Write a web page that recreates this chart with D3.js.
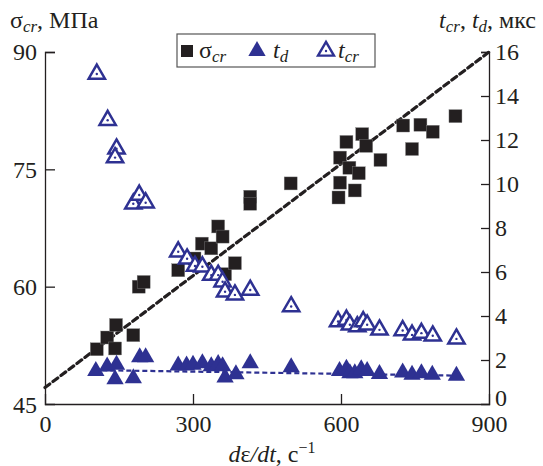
<!DOCTYPE html>
<html>
<head>
<meta charset="utf-8">
<script src="https://cdn.jsdelivr.net/npm/d3@7"></script>
<style>
  body { margin: 0; background: #fff; }
  svg text { font-family: "Liberation Serif", "Times New Roman", serif; fill: #231f20; }
</style>
</head>
<body>
<div id="chart"></div>
<script>
// strain rate, 1/s
const sigmaRate = [105, 126, 142, 144, 179, 190, 200, 270, 303, 318, 337, 351, 360, 365, 385, 416, 416, 498, 595, 598, 598, 611, 617, 628, 636, 643, 651, 680, 726, 744, 761, 786, 832];
// critical stress, MPa
const sigmaCr = [52.0, 53.5, 52.1, 55.1, 53.8, 60.0, 60.6, 62.1, 63.6, 65.5, 64.9, 67.7, 66.4, 61.6, 63.0, 71.5, 70.6, 73.2, 71.4, 73.3, 76.5, 78.5, 75.2, 72.3, 74.5, 79.5, 78.0, 76.2, 80.6, 77.6, 80.7, 79.8, 81.8];

const tdRate = [103, 126, 145, 142, 179, 192, 204, 270, 287, 300, 319, 337, 351, 360, 365, 387, 416, 499, 597, 611, 618, 628, 641, 653, 678, 725, 744, 763, 785, 834];
const tdVal = [1.5, 1.7, 1.78, 1.13, 1.17, 2.12, 2.12, 1.75, 1.75, 1.78, 1.85, 1.72, 1.82, 1.72, 1.2, 1.35, 1.85, 1.67, 1.5, 1.6, 1.4, 1.4, 1.58, 1.5, 1.36, 1.43, 1.33, 1.4, 1.33, 1.28];

const tcrRate = [105, 127, 145, 142, 179, 191, 204, 270, 288, 304, 319, 337, 351, 360, 365, 385, 416, 499, 594, 611, 618, 633, 645, 653, 678, 725, 744, 763, 786, 834];
const tcrVal = [15.0, 12.9, 11.6, 11.2, 9.1, 9.5, 9.15, 6.92, 6.6, 6.27, 6.24, 5.86, 5.86, 5.56, 5.1, 4.96, 5.18, 4.43, 3.75, 3.82, 3.6, 3.52, 3.75, 3.6, 3.37, 3.34, 3.14, 3.22, 3.1, 2.96];

// fitted lines (end points)
const sigmaFitX = [0, 900];
const sigmaFitY = [47.1, 90];
const tdFitX = [100, 834];
const tdFitY = [1.54, 1.29];

const xTicks = [0, 300, 600, 900];
const leftTicks = [45, 60, 75, 90];
const rightTicks = [0, 2, 4, 6, 8, 10, 12, 14, 16];

const blue = "#2e3192";
const black = "#231f20";
const serif = "'Liberation Serif', 'Times New Roman', serif";
const fs = "24px", fsSub = "17px";

const W = 543, H = 466;
const margin = {top: 52, right: 54, bottom: 62, left: 45};
const width = W - margin.left - margin.right;
const height = H - margin.top - margin.bottom;

const svg = d3.select("#chart").append("svg")
    .attr("width", W)
    .attr("height", H)
    .style("font-family", serif);

const g = svg.append("g")
    .attr("transform", "translate(" + margin.left + "," + margin.top + ")");

const x = d3.scaleLinear().domain([0, 900]).range([0, width]);
const yL = d3.scaleLinear().domain([45, 90]).range([height, 0]);
const yR = d3.scaleLinear().domain([0, 16]).range([height, 0]);

// axes
const xAxis = d3.axisBottom(x).tickValues(xTicks).tickSize(-10).tickPadding(5).tickFormat(d3.format("d"));
const leftAxis = d3.axisLeft(yL).tickValues(leftTicks.slice(1)).tickSize(-10).tickPadding(8);
const rightAxis = d3.axisRight(yR).tickValues(rightTicks.slice(1)).tickSize(-8).tickPadding(6);

const gx = g.append("g").attr("transform", "translate(0," + height + ")").call(xAxis);
const gl = g.append("g").call(leftAxis);
const gr = g.append("g").attr("transform", "translate(" + width + ",0)").call(rightAxis);

[gx, gl, gr].forEach(a => {
    a.attr("font-family", serif);
    a.select(".domain").attr("stroke", black).attr("stroke-width", 1.3);
    a.selectAll(".tick line").attr("stroke", black).attr("stroke-width", 1.3);
    a.selectAll(".tick text").style("font-size", fs).style("font-family", serif).attr("fill", black);
});
gx.selectAll(".tick text").attr("dy", "0.95em");
gx.selectAll(".tick").filter(d => d === 0 || d === 900).select("line").remove();

// bottom labels not produced by axes
g.append("text").attr("x", -8).attr("y", height + 9).attr("text-anchor", "end")
    .style("font-size", fs).text(leftTicks[0]);
g.append("text").attr("x", width + 6).attr("y", height - 6).attr("dy", "0.32em")
    .style("font-size", fs).text(rightTicks[0]);

// fitted lines
g.append("line")
    .attr("x1", x(sigmaFitX[0])).attr("y1", yL(sigmaFitY[0]))
    .attr("x2", x(sigmaFitX[1])).attr("y2", yL(sigmaFitY[1]))
    .attr("stroke", black).attr("stroke-width", 3.2)
    .attr("stroke-dasharray", "6,4").attr("stroke-linecap", "round");

g.append("line")
    .attr("x1", x(tdFitX[0])).attr("y1", yR(tdFitY[0]))
    .attr("x2", x(tdFitX[1])).attr("y2", yR(tdFitY[1]))
    .attr("stroke", blue).attr("stroke-width", 2.2)
    .attr("stroke-dasharray", "5,3");

// markers
const tri = d3.symbol().type(d3.symbolTriangle);

g.selectAll(".sq").data(sigmaRate.map((r, i) => [r, sigmaCr[i]]))
    .enter().append("rect")
    .attr("class", "sq")
    .attr("x", d => x(d[0]) - 6.5).attr("y", d => yL(d[1]) - 6.5)
    .attr("width", 13).attr("height", 13)
    .attr("fill", black).attr("stroke", "#888").attr("stroke-width", 0.4);

g.selectAll(".td").data(tdRate.map((r, i) => [r, tdVal[i]]))
    .enter().append("path")
    .attr("class", "td")
    .attr("d", tri.size(130))
    .attr("transform", d => "translate(" + x(d[0]) + "," + yR(d[1]) + ")")
    .attr("fill", blue);

const tcrG = g.selectAll(".tcr").data(tcrRate.map((r, i) => [r, tcrVal[i]]))
    .enter().append("g")
    .attr("class", "tcr")
    .attr("transform", d => "translate(" + x(d[0]) + "," + yR(d[1]) + ")");
tcrG.append("path").attr("d", tri.size(115))
    .attr("fill", "#fff").attr("stroke", blue).attr("stroke-width", 2.5);
tcrG.append("circle").attr("r", 1.2).attr("fill", blue);

// legend
const lg = svg.append("g").attr("transform", "translate(177,34)");
lg.append("rect").attr("width", 198).attr("height", 33)
    .attr("fill", "#fff").attr("stroke", "#555").attr("stroke-width", 1.2);
lg.append("rect").attr("x", 4).attr("y", 11).attr("width", 12).attr("height", 12).attr("fill", black);
const l1 = lg.append("text").attr("x", 22).attr("y", 24).style("font-size", fs);
l1.append("tspan").text("σ");
l1.append("tspan").attr("dy", 4).style("font-size", fsSub).style("font-style", "italic").text("cr");
lg.append("path").attr("d", tri.size(130)).attr("transform", "translate(80,17)").attr("fill", blue);
const l2 = lg.append("text").attr("x", 96).attr("y", 24).style("font-size", fs);
l2.append("tspan").style("font-style", "italic").text("t");
l2.append("tspan").attr("dy", 4).style("font-size", fsSub).style("font-style", "italic").text("d");
lg.append("path").attr("d", tri.size(110)).attr("transform", "translate(149,17)")
    .attr("fill", "#fff").attr("stroke", blue).attr("stroke-width", 2.4);
lg.append("circle").attr("cx", 149).attr("cy", 17).attr("r", 1.2).attr("fill", blue);
const l3 = lg.append("text").attr("x", 161).attr("y", 24).style("font-size", fs);
l3.append("tspan").style("font-style", "italic").text("t");
l3.append("tspan").attr("dy", 4).style("font-size", fsSub).style("font-style", "italic").text("cr");

// axis titles
const tl = svg.append("text").attr("x", 10).attr("y", 28).style("font-size", fs);
tl.append("tspan").text("σ");
tl.append("tspan").attr("dy", 4).style("font-size", fsSub).style("font-style", "italic").text("cr");
tl.append("tspan").attr("dy", -4).text(", МПа");

const tr = svg.append("text").attr("x", 536).attr("y", 28).attr("text-anchor", "end").style("font-size", fs);
tr.append("tspan").style("font-style", "italic").text("t");
tr.append("tspan").attr("dy", 4).style("font-size", fsSub).style("font-style", "italic").text("cr");
tr.append("tspan").attr("dy", -4).text(", ");
tr.append("tspan").style("font-style", "italic").text("t");
tr.append("tspan").attr("dy", 4).style("font-size", fsSub).style("font-style", "italic").text("d");
tr.append("tspan").attr("dy", -4).text(", мкс");

const xl = svg.append("text").attr("x", 272).attr("y", 462).attr("text-anchor", "middle").style("font-size", fs);
xl.append("tspan").style("font-style", "italic").text("d");
xl.append("tspan").text("ε");
xl.append("tspan").style("font-style", "italic").text("/dt");
xl.append("tspan").text(", с");
xl.append("tspan").attr("dy", -9).style("font-size", "16px").text("−1");
</script>
</body>
</html>
